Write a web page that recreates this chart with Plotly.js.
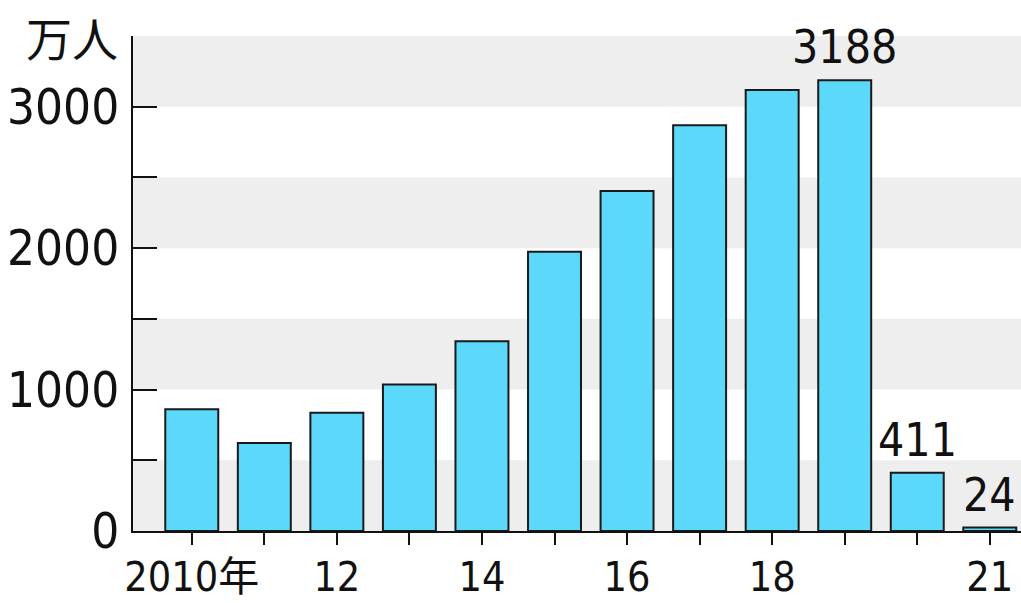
<!DOCTYPE html>
<html>
<head>
<meta charset="utf-8">
<script src="https://cdn.plot.ly/plotly-3.0.1.min.js"></script>
<style>html,body{margin:0;padding:0;background:#fff;}#chart{width:1021px;height:603px;}</style>
</head>
<body>
<div id="chart"></div>
<script>
// Data (万人)
const years = [2010, 2011, 2012, 2013, 2014, 2015, 2016, 2017, 2018, 2019, 2020, 2021];
const visitors = [861, 622, 836, 1036, 1341, 1974, 2404, 2869, 3119, 3188, 411, 24];
const xTickLabels = ['2010年', '', '12', '', '14', '', '16', '', '18', '', '', '21'];
const yTickVals = [0, 500, 1000, 1500, 2000, 2500, 3000, 3500];
const yTickLabels = ['0', '', '1000', '', '2000', '', '3000', ''];
const labeledYears = [2019, 2020, 2021];
const unitLabel = '万人';

const FONT = '"DejaVu Sans Condensed", "Noto Sans CJK JP", sans-serif';

const bands = [];
for (let i = 0; i < yTickVals.length - 1; i += 2) {
  bands.push({
    type: 'rect', xref: 'paper', yref: 'y', x0: 0, x1: 1,
    y0: yTickVals[i], y1: yTickVals[i + 1],
    fillcolor: '#eeeeee', line: {width: 0}, layer: 'below'
  });
}

const annotations = labeledYears.map(yr => {
  const v = visitors[years.indexOf(yr)];
  return {
    x: yr, y: v, xref: 'x', yref: 'y', text: String(v), showarrow: false,
    yanchor: 'bottom', xanchor: 'center', yshift: 4,
    font: {family: FONT, size: 46, color: '#111'}
  };
});
annotations.push({
  xref: 'paper', yref: 'paper', x: -0.069, y: 1.0, xanchor: 'center', yanchor: 'middle',
  text: unitLabel, showarrow: false,
  font: {family: '"Noto Sans CJK JP", sans-serif', size: 46, color: '#111'}
});

const trace = {
  type: 'bar', x: years, y: visitors, width: 0.73,
  marker: {color: '#5cd8fb', line: {color: '#1a1a1a', width: 2}},
  hoverinfo: 'none'
};

const layout = {
  width: 1021, height: 603,
  margin: {l: 133, r: 0, t: 36, b: 72, pad: 0},
  paper_bgcolor: '#ffffff', plot_bgcolor: 'rgba(0,0,0,0)',
  showlegend: false,
  xaxis: {
    range: [2009.19, 2021.43], tickmode: 'array', tickvals: years, ticktext: xTickLabels,
    ticks: 'outside', ticklen: 12, tickwidth: 2, tickcolor: '#111',
    showline: true, linecolor: '#111', linewidth: 2, showgrid: false, zeroline: false,
    tickfont: {family: FONT, size: 41, color: '#111'}, ticklabelstandoff: -3, fixedrange: true
  },
  yaxis: {
    range: [0, 3500], tickmode: 'array', tickvals: yTickVals, ticktext: yTickLabels,
    ticks: 'inside', ticklen: 24, tickwidth: 2, tickcolor: '#111',
    showline: true, linecolor: '#111', linewidth: 2, showgrid: false, zeroline: false,
    tickfont: {family: FONT, size: 49, color: '#111'}, ticklabelstandoff: 2, fixedrange: true
  },
  shapes: bands,
  annotations: annotations
};

Plotly.newPlot('chart', [trace], layout, {staticPlot: true, displayModeBar: false});
</script>
</body>
</html>
